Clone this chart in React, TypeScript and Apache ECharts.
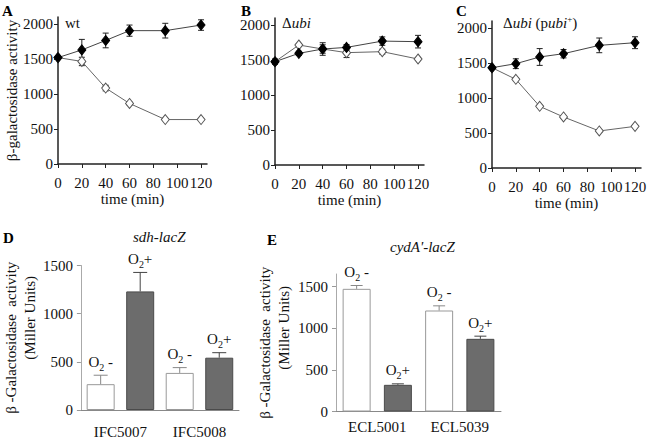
import React, { useEffect, useRef } from 'react';
import * as echarts from 'echarts';

// ---- data ----
const timePoints = [0, 20, 40, 60, 90, 120];
const timeTicks = [0, 20, 40, 60, 80, 100, 120];
const lineYTicks = [0, 500, 1000, 1500, 2000];

const aFilled = [1520, 1630, 1765, 1905, 1905, 1985];
const aFilledErr = [20, 150, 105, 80, 105, 75];
const aOpen = [1520, 1465, 1085, 865, 635, 635];
const aOpenErr = [20, 60, 40, 20, 15, 10];

const bFilled = [1476, 1595, 1657, 1680, 1770, 1762];
const bFilledErr = [30, 30, 90, 40, 60, 90];
const bOpen = [1476, 1714, 1657, 1605, 1619, 1514];
const bOpenErr = [40, 15, 60, 70, 35, 20];

const cFilled = [1433, 1490, 1586, 1633, 1752, 1790];
const cFilledErr = [20, 70, 120, 60, 105, 85];
const cOpen = [1433, 1267, 881, 729, 529, 595];
const cOpenErr = [20, 20, 15, 15, 20, 15];

const barConditions = ['O2 -', 'O2+', 'O2 -', 'O2+'];
const barYTicks = [0, 500, 1000, 1500];

const dStrains = ['IFC5007', 'IFC5008'];
const dValues = [268, 1231, 385, 543];
const dErr = [93, 197, 55, 52];

const eStrains = ['ECL5001', 'ECL5039'];
const eValues = [1472, 320, 1212, 872];
const eErr = [40, 12, 56, 32];

const FONT = '"Liberation Serif", "Times New Roman", serif';

const lineErrRender = (capHalf: number) => (params: any, api: any) => {
  const x = api.value(0), y = api.value(1), e = api.value(2);
  const top = api.coord([x, y + e]);
  const bot = api.coord([x, y - e]);
  const style = { stroke: '#222', lineWidth: 1 };
  return {
    type: 'group',
    children: [
      { type: 'line', shape: { x1: top[0], y1: top[1], x2: bot[0], y2: bot[1] }, style },
      { type: 'line', shape: { x1: top[0] - capHalf, y1: top[1], x2: top[0] + capHalf, y2: top[1] }, style },
      { type: 'line', shape: { x1: bot[0] - capHalf, y1: bot[1], x2: bot[0] + capHalf, y2: bot[1] }, style },
    ],
  };
};

const o2Rich = {
  o: { font: `15px ${FONT}`, fontFamily: FONT, fontSize: 15, lineHeight: 16, verticalAlign: 'top', fill: '#111' },
  s: { font: `10px ${FONT}`, fontFamily: FONT, fontSize: 10, lineHeight: 10, padding: [8, 0, 0, 0], verticalAlign: 'top', fill: '#111' },
};

const condText = (c: string) => (c === 'O2+' ? '{o|O}{s|2}{o|+}' : '{o|O}{s|2}{o| -}');

const barErrRender = (capHalf: number) => (params: any, api: any) => {
  const i = api.value(0), v = api.value(1), e = api.value(2);
  const base = api.coord([i, v]);
  const top = api.coord([i, v + e]);
  const dark = i % 2 === 1;
  const style = { stroke: dark ? '#444' : '#888', lineWidth: 1 };
  return {
    type: 'group',
    children: [
      { type: 'line', shape: { x1: base[0], y1: base[1], x2: top[0], y2: top[1] }, style },
      { type: 'line', shape: { x1: top[0] - capHalf, y1: top[1], x2: top[0] + capHalf, y2: top[1] }, style },
      {
        type: 'text',
        x: top[0],
        y: top[1] - 5,
        style: {
          text: condText(barConditions[i]),
          rich: o2Rich,
          font: `15px ${FONT}`,
          align: 'center',
          verticalAlign: 'bottom',
          fill: '#111',
        },
      },
    ],
  };
};

const numFmt = (step: number) => (v: number) => (v % step === 0 ? String(v) : '');

function lineXAxis(gridIndex: number) {
  return {
    type: 'value', gridIndex, min: 0, max: 125, interval: 20,
    name: 'time (min)', nameLocation: 'middle', nameGap: 27,
    nameTextStyle: { fontFamily: FONT, fontSize: 15, fontWeight: 'normal', color: '#111' },
    axisLine: { lineStyle: { color: '#222', width: 1.5 } },
    axisTick: { customValues: timeTicks, length: 4, lineStyle: { color: '#222' } },
    axisLabel: { margin: 11, fontFamily: FONT, fontSize: 15, color: '#111', formatter: numFmt(20) },
    splitLine: { show: false },
  };
}

function lineYAxis(gridIndex: number, name: string) {
  return {
    type: 'value', gridIndex, min: 0, max: 2100, interval: 500,
    name, nameLocation: 'middle', nameGap: 38, nameRotate: 90,
    nameTextStyle: { fontFamily: FONT, fontSize: 15, fontWeight: 'normal', color: '#111' },
    axisLine: { show: true, lineStyle: { color: '#222', width: 1.5 } },
    axisTick: { show: true, customValues: lineYTicks, length: 4, lineStyle: { color: '#222' } },
    axisLabel: { margin: 5, fontFamily: FONT, fontSize: 15, color: '#111', formatter: numFmt(500) },
    splitLine: { show: false },
  };
}

function lineSeries(idx: number, filled: number[], filledErr: number[], open: number[], openErr: number[]) {
  return [
    {
      type: 'custom', xAxisIndex: idx, yAxisIndex: idx, renderItem: lineErrRender(3), z: 1,
      data: timePoints.map((t, i) => [t, filled[i], filledErr[i]]),
    },
    {
      type: 'custom', xAxisIndex: idx, yAxisIndex: idx, renderItem: lineErrRender(3), z: 1,
      data: timePoints.map((t, i) => [t, open[i], openErr[i]]),
    },
    {
      type: 'line', xAxisIndex: idx, yAxisIndex: idx, z: 3,
      data: timePoints.map((t, i) => [t, open[i]]),
      symbol: 'diamond', symbolSize: [8, 10],
      lineStyle: { color: '#666', width: 1 },
      itemStyle: { color: '#fff', borderColor: '#555', borderWidth: 1 },
    },
    {
      type: 'line', xAxisIndex: idx, yAxisIndex: idx, z: 4,
      data: timePoints.map((t, i) => [t, filled[i]]),
      symbol: 'diamond', symbolSize: [8, 10],
      lineStyle: { color: '#444', width: 1 },
      itemStyle: { color: '#000', borderColor: '#000', borderWidth: 1 },
    },
  ];
}

const whiteBar = { color: '#fff', borderColor: '#999', borderWidth: 1 };
const darkBar = { color: '#6c6c6c', borderColor: '#4a4a4a', borderWidth: 1 };

function barAxes(gridIndex: number, strains: string[], labelMargin: number) {
  return [
    {
      type: 'category', gridIndex, data: barConditions.map((c, i) => c + i), position: 'bottom',
      axisLine: { lineStyle: { color: '#888', width: 1 } },
      axisTick: { alignWithLabel: true, length: 5, lineStyle: { color: '#888' } },
      axisLabel: { show: false },
    },
    {
      type: 'category', gridIndex, data: strains, position: 'bottom',
      axisLine: { show: false }, axisTick: { show: false },
      axisLabel: { margin: labelMargin, fontFamily: FONT, fontSize: 15, color: '#111' },
    },
  ];
}

function barYAxis(gridIndex: number, max: number, gap: number, pad: number) {
  return {
    type: 'value', gridIndex, min: 0, max, interval: 500,
    name: '{a|β -Galactosidase  activity}\n{b|(Miller Units)}',
    nameLocation: 'middle', nameGap: gap, nameRotate: 90,
    nameTextStyle: {
      fontFamily: FONT, fontSize: 15, fontWeight: 'normal', color: '#111', lineHeight: 19,
      rich: {
        a: { fontFamily: FONT, fontSize: 15, color: '#111', lineHeight: 19 },
        b: { fontFamily: FONT, fontSize: 15, color: '#111', lineHeight: 19, padding: [0, 0, 0, pad] },
      },
    },
    axisLine: { show: true, lineStyle: { color: '#aaa', width: 1 } },
    axisTick: { show: true, customValues: barYTicks, length: 4, lineStyle: { color: '#999' } },
    axisLabel: { margin: 8, fontFamily: FONT, fontSize: 15, color: '#111', formatter: numFmt(500) },
    splitLine: { show: false },
  };
}

function barSeries(xIdx: number, yIdx: number, values: number[], errs: number[], cap: number) {
  return [
    {
      type: 'bar', xAxisIndex: xIdx, yAxisIndex: yIdx, barWidth: 28,
      data: values.map((v, i) => ({ value: v, itemStyle: i % 2 === 0 ? whiteBar : darkBar })),
    },
    {
      type: 'custom', xAxisIndex: xIdx, yAxisIndex: yIdx, renderItem: barErrRender(cap), z: 5,
      data: values.map((v, i) => [i, v, errs[i]]),
    },
  ];
}

const titleRich = {
  n: { fontFamily: FONT, fontSize: 15, lineHeight: 16, verticalAlign: 'bottom', fill: '#111' },
  i: { fontFamily: FONT, fontSize: 15, lineHeight: 16, verticalAlign: 'bottom', fontStyle: 'italic', fill: '#111' },
  sup: { fontFamily: FONT, fontSize: 9, lineHeight: 9, verticalAlign: 'top', fill: '#111' },
};

function letter(t: string, x: number, y: number) {
  return { type: 'text', left: x, top: y, style: { text: t, font: `bold 15px ${FONT}`, fill: '#000' } };
}

export default function App() {
  const ref = useRef<HTMLDivElement>(null);
  useEffect(() => {
    const chart = echarts.init(ref.current!, null, { renderer: 'svg' });
    chart.setOption({
      animation: false,
      backgroundColor: '#fff',
      textStyle: { fontFamily: FONT },
      grid: [
        { left: 58, top: 17, width: 149, height: 147 },
        { left: 275, top: 18, width: 149, height: 147 },
        { left: 492, top: 21, width: 149, height: 147 },
        { left: 74, top: 265.5, width: 165, height: 145.5 },
        { left: 336, top: 274, width: 165, height: 137.5 },
      ],
      xAxis: [
        lineXAxis(0), lineXAxis(1), lineXAxis(2),
        ...barAxes(3, dStrains, 14),
        ...barAxes(4, eStrains, 8),
      ],
      yAxis: [
        lineYAxis(0, 'β-galactosidase activity'),
        lineYAxis(1, ''),
        lineYAxis(2, ''),
        barYAxis(3, 1500, 38, 40),
        barYAxis(4, 1650, 43, 30),
      ],
      series: [
        ...lineSeries(0, aFilled, aFilledErr, aOpen, aOpenErr),
        ...lineSeries(1, bFilled, bFilledErr, bOpen, bOpenErr),
        ...lineSeries(2, cFilled, cFilledErr, cOpen, cOpenErr),
        ...barSeries(3, 3, dValues, dErr, 7),
        ...barSeries(5, 4, eValues, eErr, 6),
      ],
      graphic: [
        letter('A', 2, 3),
        letter('B', 241, 3),
        letter('C', 456, 3),
        letter('D', 3, 230),
        letter('E', 267, 232),
        { type: 'text', left: 65, top: 15, style: { text: '{n|wt}', rich: titleRich } },
        { type: 'text', left: 282, top: 15, style: { text: '{n|Δ}{i|ubi}', rich: titleRich } },
        { type: 'text', left: 503, top: 14, style: { text: '{n|Δ}{i|ubi}{n| (p}{i|ubi}{sup|+}{n|)}', rich: titleRich } },
        { type: 'text', left: 133, top: 229, style: { text: 'sdh-lacZ', font: `italic 15px ${FONT}`, fill: '#111' } },
        { type: 'text', left: 390, top: 239, style: { text: "cydA'-lacZ", font: `italic 15px ${FONT}`, fill: '#111' } },
      ],
    });
    return () => chart.dispose();
  }, []);
  return <div ref={ref} style={{ position: 'fixed', left: 0, top: 0, width: 650, height: 439 }} />;
}
